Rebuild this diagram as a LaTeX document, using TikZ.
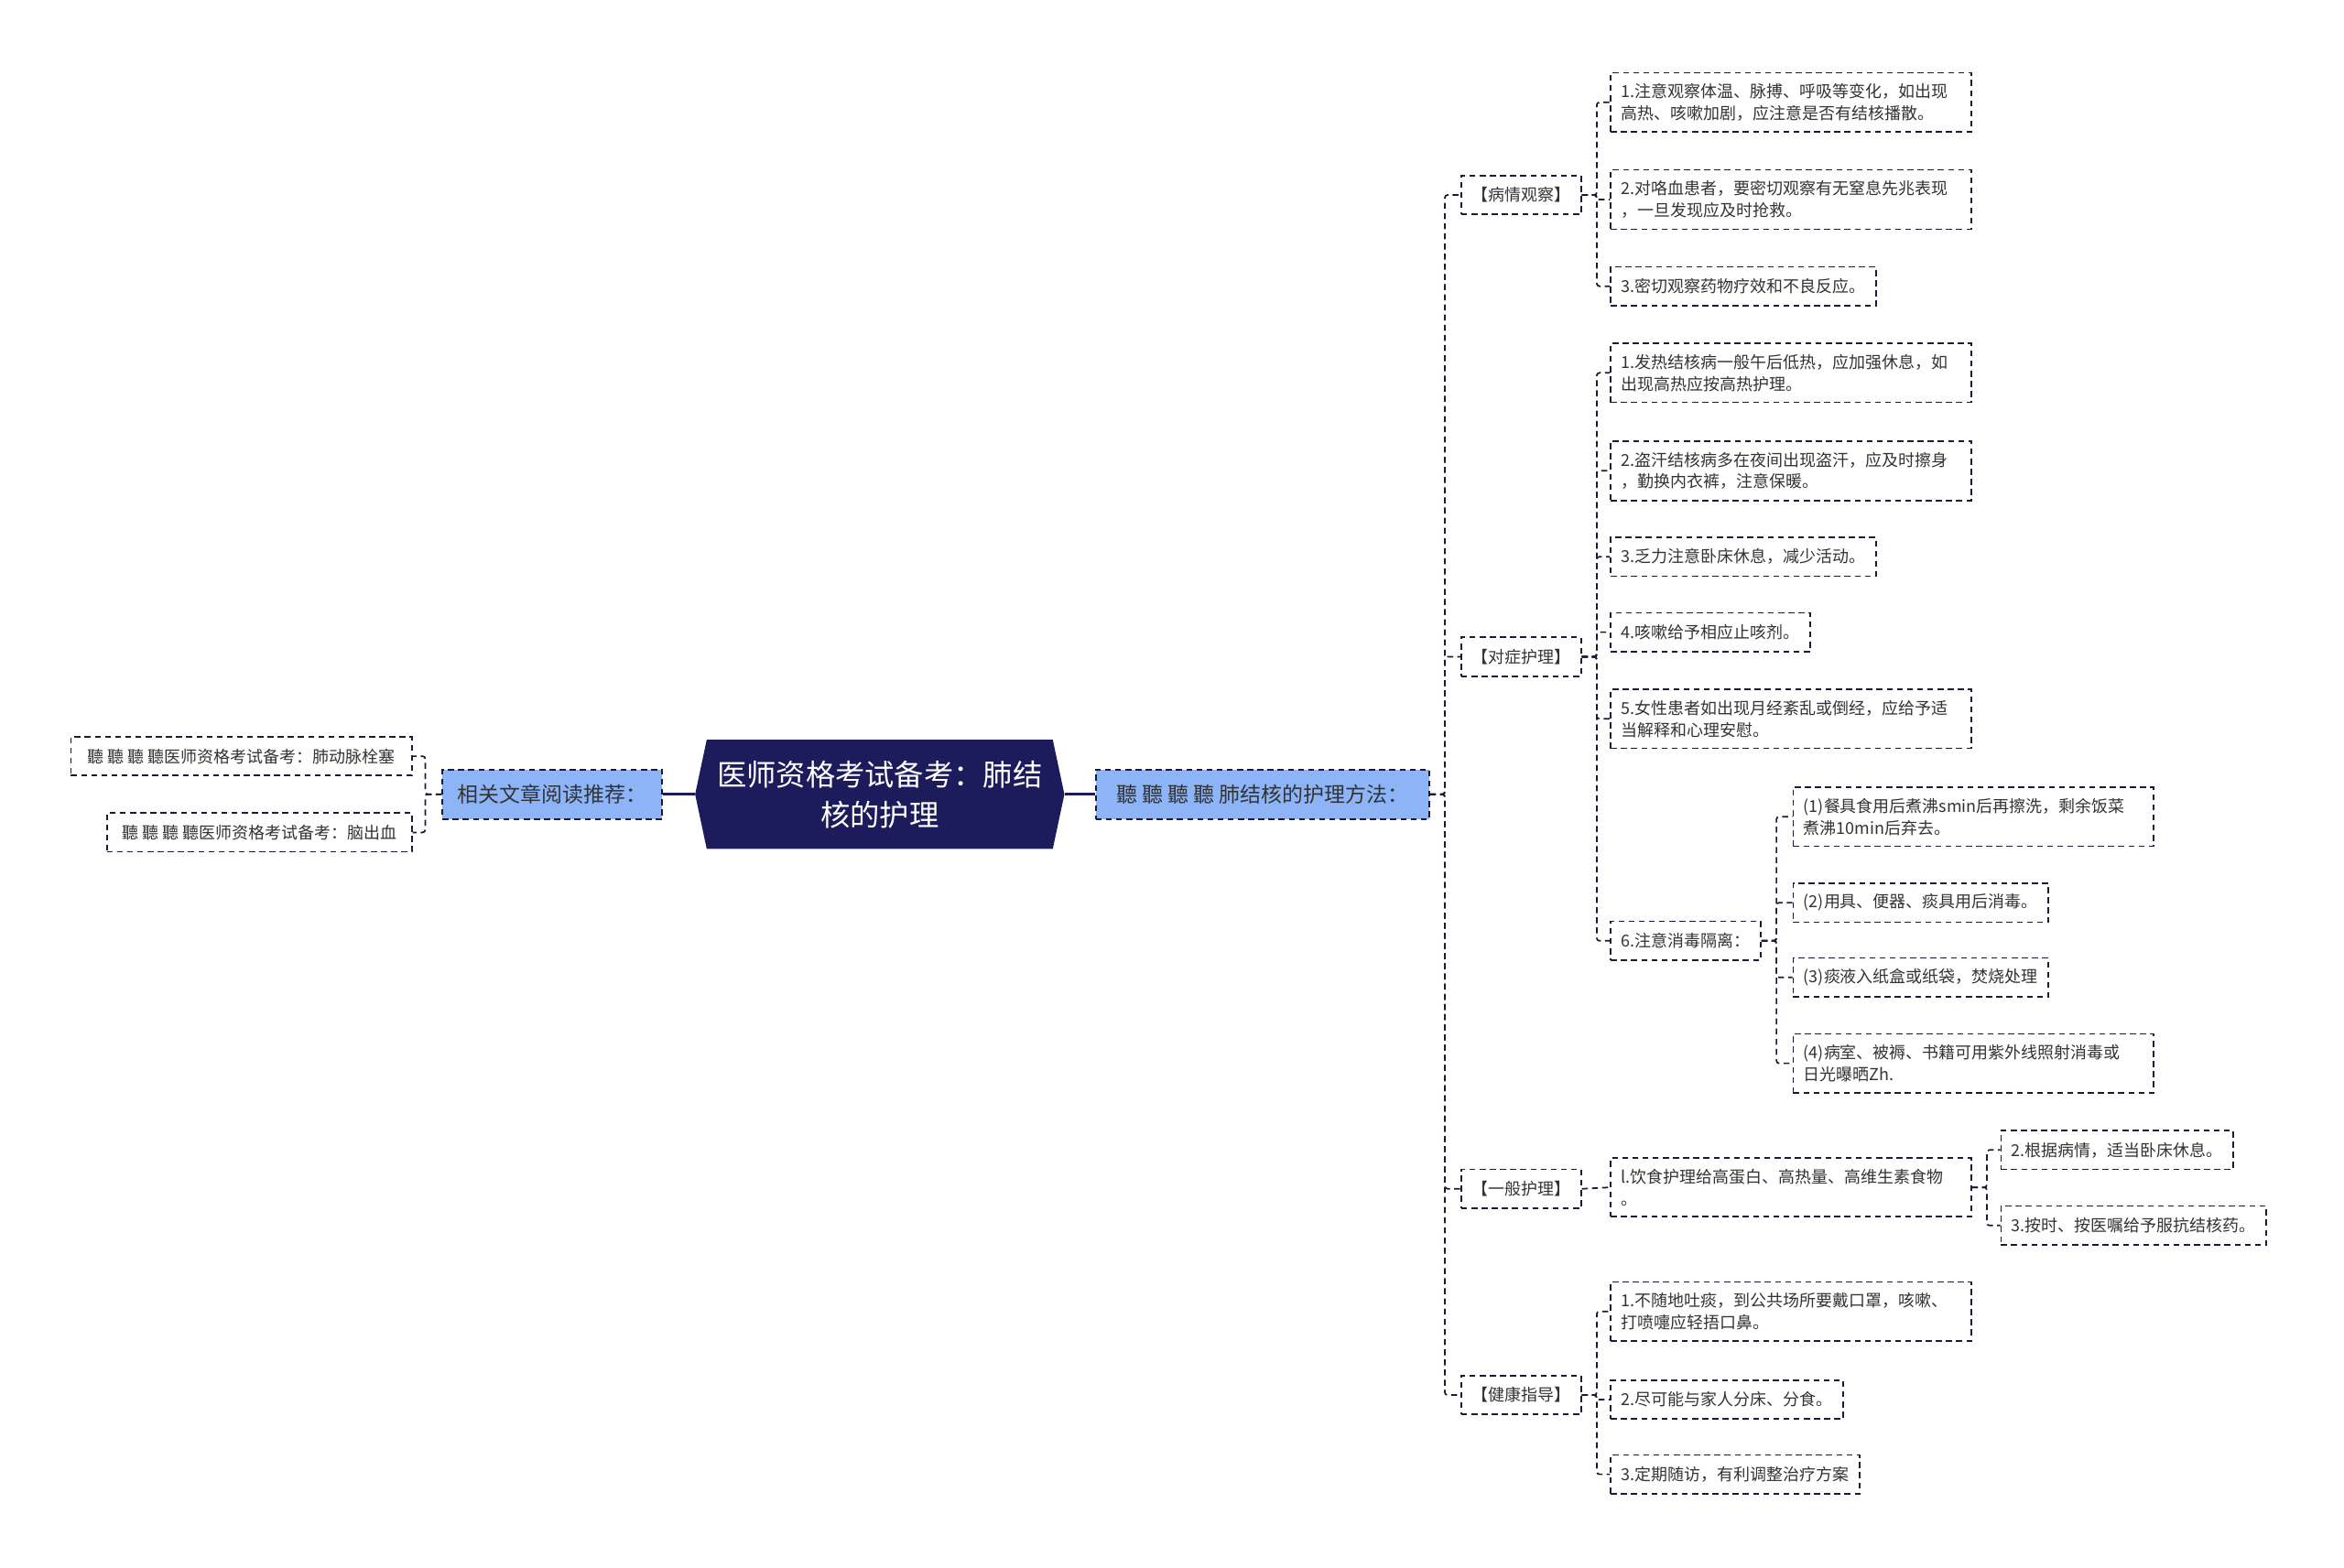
\documentclass[tikz,border=0pt]{standalone}
\usepackage{fontspec}
\newfontfamily\cjk{Noto Sans CJK SC}
\usetikzlibrary{shapes.symbols}

\definecolor{navy}{HTML}{1C1B5B}
\definecolor{skyblue}{HTML}{8DB4F7}
\definecolor{ink}{HTML}{333333}
\definecolor{wire}{HTML}{1A1A33}

\tikzset{
  box/.style={draw=wire, line width=0.9pt, dash pattern=on 3.4pt off 2.4pt,
    text=ink, align=left, font=\cjk\fontsize{9.4}{12.4}\selectfont,
    inner xsep=0.21cm, inner ysep=0.22cm, minimum height=0.78cm},
  leaf/.style={box, anchor=west},
  wideleaf/.style={leaf, text width=6.81cm},
  topic/.style={box, fill=skyblue, align=center,
    font=\cjk\fontsize{12}{14}\selectfont, minimum height=0.99cm},
  core/.style={signal, signal to=west and east, signal pointer angle=156,
    fill=navy, text=white, align=center, inner sep=0pt,
    font=\cjk\fontsize{16.9}{23}\selectfont,
    minimum width=7.41cm, minimum height=2.19cm},
  link/.style={draw=wire, line width=0.9pt, dash pattern=on 3.4pt off 2.4pt,
    rounded corners=1.5pt},
  trunk/.style={draw=navy, line width=1.7pt},
}

\begin{document}
\begin{tikzpicture}[x=0.03cm, y=-0.03cm]
    \fill[white] (0,0) rectangle (1568,1049);
    \useasboundingbox (0,0) rectangle (1568,1049);

    % centre and the two topics
    \node[core] (root) at (588.5,531.5) {医师资格考试备考：肺结\\核的护理};
    \node[topic, minimum width=4.41cm] (recL) at (369.5,531.5) {相关文章阅读推荐：};
    \node[topic, minimum width=6.69cm] (recR) at (844.5,531.5) {聽 聽 聽 聽 肺结核的护理方法：};
    \draw[trunk] (recL.east) -- (root.west);
    \draw[trunk] (root.east) -- (recR.west);

    % left side
    \node[box, anchor=east, minimum width=6.84cm] (lnkA) at (276,506) {聽 聽 聽 聽医师资格考试备考：肺动脉栓塞};
    \node[box, anchor=east, minimum width=6.12cm] (lnkB) at (276,557) {聽 聽 聽 聽医师资格考试备考：脑出血};
    \foreach \c in {lnkA,lnkB}
        \draw[link] (recL.west) -- ++(-11,0) |- (\c.east);

    % second level
    \node[leaf] (obs) at (977,130.5) {【病情观察】};
    \node[leaf] (sym) at (977,439.5) {【对症护理】};
    \node[leaf] (gen) at (977,795.5) {【一般护理】};
    \node[leaf] (edu) at (977,933.5) {【健康指导】};
    \foreach \c in {obs,sym,gen,edu}
        \draw[link] (recR.east) -- ++(10,0) |- (\c.west);

    % 病情观察
    \node[wideleaf] (o1) at (1077,68.5) {1.注意观察体温、脉搏、呼吸等变化，如出现\\高热、咳嗽加剧，应注意是否有结核播散。};
    \node[wideleaf] (o2) at (1077,133.5) {2.对咯血患者，要密切观察有无窒息先兆表现\\，一旦发现应及时抢救。};
    \node[leaf] (o3) at (1077,191.5) {3.密切观察药物疗效和不良反应。};
    \foreach \c in {o1,o2,o3}
        \draw[link] (obs.east) -- ++(10,0) |- (\c.west);

    % 对症护理
    \node[wideleaf] (s1) at (1077,249.5) {1.发热结核病一般午后低热，应加强休息，如\\出现高热应按高热护理。};
    \node[wideleaf] (s2) at (1077,315) {2.盗汗结核病多在夜间出现盗汗，应及时擦身\\，勤换内衣裤，注意保暖。};
    \node[leaf] (s3) at (1077,372.5) {3.乏力注意卧床休息，减少活动。};
    \node[leaf] (s4) at (1077,423) {4.咳嗽给予相应止咳剂。};
    \node[wideleaf] (s5) at (1077,481) {5.女性患者如出现月经紊乱或倒经，应给予适\\当解释和心理安慰。};
    \node[leaf] (s6) at (1077,629.5) {6.注意消毒隔离：};
    \foreach \c in {s1,s2,s3,s4,s5,s6}
        \draw[link] (sym.east) -- ++(10,0) |- (\c.west);

    \node[wideleaf] (d1) at (1199,546.5) {(1)餐具食用后煮沸smin后再擦洗，剩余饭菜\\煮沸10min后弃去。};
    \node[leaf] (d2) at (1199,604) {(2)用具、便器、痰具用后消毒。};
    \node[leaf] (d3) at (1199,654) {(3)痰液入纸盒或纸袋，焚烧处理};
    \node[wideleaf] (d4) at (1199,711.5) {(4)病室、被褥、书籍可用紫外线照射消毒或\\日光曝晒Zh.};
    \foreach \c in {d1,d2,d3,d4}
        \draw[link] (s6.east) -- ++(10,0) |- (\c.west);

    % 一般护理
    \node[wideleaf] (g1) at (1077,794.5) {l.饮食护理给高蛋白、高热量、高维生素食物\\。};
    \node[leaf] (g2) at (1338,769.5) {2.根据病情，适当卧床休息。};
    \node[leaf] (g3) at (1338,820) {3.按时、按医嘱给予服抗结核药。};
    \draw[link] (gen.east) -- (g1.west);
    \foreach \c in {g2,g3}
        \draw[link] (g1.east) -- ++(10,0) |- (\c.west);

    % 健康指导
    \node[wideleaf] (e1) at (1077,877.5) {1.不随地吐痰，到公共场所要戴口罩，咳嗽、\\打喷嚏应轻捂口鼻。};
    \node[leaf] (e2) at (1077,936.5) {2.尽可能与家人分床、分食。};
    \node[leaf] (e3) at (1077,986.5) {3.定期随访，有利调整治疗方案};
    \foreach \c in {e1,e2,e3}
        \draw[link] (edu.east) -- ++(10,0) |- (\c.west);
\end{tikzpicture}
\end{document}
